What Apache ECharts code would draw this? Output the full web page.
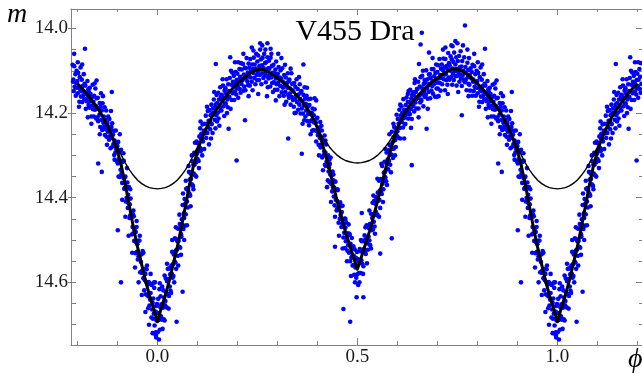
<!DOCTYPE html>
<html><head><meta charset="utf-8">
<script src="https://cdn.jsdelivr.net/npm/echarts@6/dist/echarts.min.js"></script>
<style>html,body{margin:0;padding:0;background:#fff}#c{width:642px;height:374px}</style>
</head><body><div id="c"></div>
<script>
// ---- axis ticks / labels ----
const xTickValues = [-0.2,-0.1,0,0.1,0.2,0.3,0.4,0.5,0.6,0.7,0.8,0.9,1.0,1.1,1.2];
const xLabelValues = [0, 0.5, 1.0];
const yTickValues = [14.0,14.05,14.1,14.15,14.2,14.25,14.3,14.35,14.4,14.45,14.5,14.55,14.6,14.65,14.7];
const yLabelValues = [14.0, 14.2, 14.4, 14.6];

// ---- observations [phase, magnitude], phase in [0,1) ----
const obsPrimaryEgress = [
[0.000,14.672],[0.001,14.718],[0.002,14.639],[0.003,14.689],[0.005,14.616],[0.006,14.712],[0.007,14.658],[0.008,14.633],[0.009,14.68],
[0.010,14.652],[0.011,14.688],[0.012,14.61],[0.014,14.66],[0.015,14.619],[0.016,14.687],[0.017,14.636],[0.018,14.584],[0.019,14.654],
[0.020,14.644],[0.021,14.591],[0.022,14.625],[0.023,14.659],[0.024,14.597],[0.026,14.568],[0.027,14.628],[0.028,14.593],[0.029,14.632],
[0.030,14.567],[0.031,14.61],[0.032,14.581],[0.033,14.62],[0.035,14.56],[0.036,14.58],[0.037,14.528],[0.038,14.589],[0.039,14.557],
[0.040,14.585],[0.041,14.534],[0.043,14.551],[0.044,14.496],[0.045,14.553],[0.046,14.525],[0.047,14.568],[0.048,14.499],[0.049,14.523],
[0.050,14.503],[0.051,14.537],[0.052,14.473],[0.053,14.502],[0.054,14.516],[0.056,14.462],[0.057,14.518],[0.058,14.471],[0.059,14.486],
[0.060,14.492],[0.061,14.451],[0.062,14.465],[0.063,14.417],[0.065,14.474],[0.066,14.437],[0.067,14.448],[0.068,14.403],[0.069,14.466],
[0.070,14.414],[0.071,14.439],[0.072,14.379],[0.074,14.409],[0.075,14.377],[0.076,14.423],[0.077,14.384],[0.078,14.396],[0.079,14.339],
[0.080,14.39],[0.081,14.357],[0.082,14.395],[0.083,14.343],[0.084,14.356],[0.086,14.368],[0.087,14.314],[0.088,14.345],[0.089,14.372],
[0.090,14.322],[0.091,14.343],[0.092,14.294],[0.093,14.322],[0.094,14.347],[0.095,14.296],[0.097,14.316],[0.098,14.267],[0.099,14.296],
[0.100,14.308],[0.101,14.271],[0.102,14.288],[0.103,14.313],[0.105,14.255],[0.106,14.282],[0.107,14.236],[0.108,14.29],[0.109,14.26],
[0.110,14.249],[0.111,14.286],[0.112,14.26],[0.113,14.227],[0.114,14.267],[0.116,14.242],[0.117,14.285],[0.118,14.225],[0.119,14.248],
[0.120,14.241],[0.121,14.206],[0.122,14.259],[0.124,14.226],[0.125,14.247],[0.126,14.195],[0.127,14.233],[0.128,14.218],[0.129,14.274],
[0.130,14.193],[0.131,14.219],[0.132,14.238],[0.133,14.205],[0.135,14.18],[0.136,14.226],[0.137,14.201],[0.138,14.247],[0.139,14.189],
[0.140,14.199],[0.141,14.168],[0.143,14.216],[0.144,14.186],[0.145,14.236],[0.146,14.179],[0.147,14.205],[0.148,14.157],[0.149,14.22],
[0.150,14.176],[0.151,14.199],[0.152,14.152],[0.153,14.213],[0.154,14.168],[0.156,14.187],[0.157,14.139],[0.158,14.194],[0.159,14.161],
[0.160,14.194],[0.161,14.157],[0.162,14.169],[0.164,14.135],[0.165,14.184],[0.166,14.164],[0.167,14.207],[0.168,14.147],[0.169,14.177],
[0.170,14.141],[0.171,14.178],[0.172,14.154],[0.173,14.12],[0.175,14.168],[0.176,14.186],[0.177,14.132],[0.178,14.161],[0.179,14.148],
[0.180,14.162],[0.181,14.117],[0.182,14.148],[0.183,14.19],[0.185,14.133],[0.186,14.169],[0.187,14.104],[0.188,14.153],[0.189,14.126],
[0.190,14.137],[0.191,14.112],[0.192,14.169],[0.193,14.128],[0.194,14.149],[0.196,14.103],[0.197,14.156],[0.198,14.122],[0.199,14.142],
[0.200,14.107],[0.201,14.136],[0.202,14.164],[0.203,14.121],[0.205,14.096],[0.206,14.143],[0.207,14.114],[0.208,14.152],[0.209,14.082],
[0.210,14.131],[0.211,14.097],[0.213,14.122],[0.214,14.084],[0.215,14.147],[0.216,14.109],[0.217,14.137],[0.218,14.117],[0.219,14.093],
[0.220,14.146],[0.221,14.094],[0.222,14.118],[0.223,14.07],[0.225,14.125],[0.226,14.104],[0.227,14.134],[0.228,14.083],[0.229,14.113],
[0.230,14.093],[0.231,14.135],[0.232,14.072],[0.233,14.116],[0.234,14.102],[0.236,14.126],[0.237,14.085],[0.238,14.146],[0.239,14.096],
[0.240,14.105],[0.241,14.069],[0.242,14.117],[0.243,14.085],[0.245,14.132],[0.246,14.095],[0.247,14.06],[0.248,14.11],[0.249,14.122]
];
const obsSecondaryIngress = [
[0.250,14.078],[0.251,14.102],[0.252,14.064],[0.254,14.122],[0.255,14.089],[0.256,14.11],[0.257,14.05],[0.258,14.097],[0.259,14.073],
[0.260,14.132],[0.261,14.087],[0.262,14.106],[0.263,14.069],[0.265,14.117],[0.266,14.094],[0.267,14.06],[0.268,14.11],[0.269,14.082],
[0.270,14.105],[0.271,14.127],[0.272,14.08],[0.273,14.112],[0.275,14.068],[0.276,14.139],[0.277,14.094],[0.278,14.118],[0.279,14.076],
[0.280,14.095],[0.281,14.11],[0.282,14.137],[0.283,14.069],[0.285,14.116],[0.286,14.089],[0.287,14.129],[0.288,14.105],[0.289,14.15],
[0.290,14.086],[0.291,14.127],[0.292,14.105],[0.294,14.145],[0.295,14.097],[0.296,14.118],[0.297,14.078],[0.298,14.132],[0.299,14.114],
[0.300,14.145],[0.301,14.107],[0.302,14.128],[0.303,14.091],[0.305,14.16],[0.306,14.116],[0.307,14.136],[0.308,14.099],[0.309,14.122],
[0.310,14.119],[0.311,14.151],[0.312,14.094],[0.314,14.14],[0.315,14.127],[0.316,14.159],[0.317,14.11],[0.318,14.134],[0.319,14.086],
[0.320,14.15],[0.321,14.116],[0.322,14.173],[0.324,14.129],[0.325,14.14],[0.326,14.106],[0.327,14.157],[0.328,14.125],[0.329,14.164],
[0.330,14.121],[0.331,14.154],[0.332,14.142],[0.333,14.18],[0.335,14.106],[0.336,14.162],[0.337,14.131],[0.338,14.146],[0.339,14.169],
[0.340,14.149],[0.341,14.185],[0.342,14.129],[0.344,14.166],[0.345,14.138],[0.346,14.199],[0.347,14.158],[0.348,14.12],[0.349,14.174],
[0.350,14.173],[0.351,14.143],[0.352,14.192],[0.353,14.156],[0.355,14.18],[0.356,14.132],[0.357,14.167],[0.358,14.201],[0.359,14.15],
[0.360,14.148],[0.361,14.189],[0.362,14.172],[0.364,14.201],[0.365,14.157],[0.366,14.182],[0.367,14.217],[0.368,14.139],[0.369,14.166],
[0.370,14.208],[0.371,14.178],[0.372,14.194],[0.373,14.159],[0.375,14.219],[0.376,14.185],[0.377,14.202],[0.378,14.167],[0.379,14.229],
[0.380,14.181],[0.381,14.22],[0.382,14.202],[0.383,14.166],[0.385,14.217],[0.386,14.199],[0.387,14.242],[0.388,14.189],[0.389,14.219],
[0.390,14.24],[0.391,14.205],[0.392,14.222],[0.393,14.191],[0.395,14.241],[0.396,14.223],[0.397,14.267],[0.398,14.213],[0.399,14.242],
[0.400,14.211],[0.401,14.252],[0.402,14.235],[0.403,14.275],[0.405,14.235],[0.406,14.258],[0.407,14.221],[0.408,14.281],[0.409,14.26],
[0.410,14.276],[0.411,14.241],[0.412,14.305],[0.413,14.267],[0.415,14.3],[0.416,14.269],[0.417,14.291],[0.418,14.253],[0.419,14.322],
[0.420,14.293],[0.421,14.325],[0.422,14.274],[0.423,14.315],[0.425,14.302],[0.426,14.359],[0.427,14.3],[0.428,14.338],[0.429,14.328],
[0.430,14.363],[0.431,14.32],[0.432,14.345],[0.433,14.305],[0.435,14.368],[0.436,14.347],[0.437,14.385],[0.438,14.338],[0.439,14.376],
[0.440,14.359],[0.441,14.397],[0.442,14.376],[0.443,14.418],[0.445,14.362],[0.446,14.405],[0.447,14.381],[0.448,14.43],[0.449,14.407],
[0.450,14.425],[0.451,14.382],[0.452,14.423],[0.453,14.459],[0.455,14.416],[0.456,14.45],[0.457,14.411],[0.458,14.441],[0.459,14.434],
[0.460,14.469],[0.461,14.434],[0.462,14.461],[0.463,14.419],[0.465,14.494],[0.466,14.463],[0.467,14.483],[0.468,14.449],[0.469,14.519],
[0.470,14.471],[0.471,14.503],[0.472,14.458],[0.473,14.494],[0.475,14.525],[0.476,14.484],[0.477,14.512],[0.478,14.463],[0.479,14.53],
[0.480,14.513],[0.481,14.488],[0.482,14.55],[0.483,14.509],[0.485,14.542],[0.486,14.495],[0.487,14.538],[0.488,14.56],[0.489,14.52],
[0.490,14.559],[0.491,14.537],[0.492,14.582],[0.493,14.522],[0.495,14.565],[0.496,14.542],[0.497,14.589],[0.498,14.561],[0.499,14.528]
];
const obsSecondaryEgress = [
[0.500,14.581],[0.501,14.545],[0.502,14.606],[0.503,14.551],[0.504,14.578],[0.506,14.521],[0.507,14.552],[0.508,14.578],[0.509,14.527],
[0.510,14.548],[0.511,14.503],[0.512,14.556],[0.514,14.523],[0.515,14.562],[0.516,14.503],[0.517,14.521],[0.518,14.489],[0.519,14.528],
[0.520,14.498],[0.521,14.533],[0.522,14.503],[0.523,14.465],[0.525,14.508],[0.526,14.523],[0.527,14.467],[0.528,14.492],[0.529,14.472],
[0.530,14.501],[0.531,14.462],[0.532,14.512],[0.534,14.438],[0.535,14.466],[0.536,14.477],[0.537,14.448],[0.538,14.412],[0.539,14.475],
[0.540,14.442],[0.541,14.457],[0.542,14.407],[0.543,14.468],[0.545,14.414],[0.546,14.433],[0.547,14.399],[0.548,14.441],[0.549,14.407],
[0.550,14.44],[0.551,14.388],[0.552,14.407],[0.554,14.36],[0.555,14.405],[0.556,14.383],[0.557,14.424],[0.558,14.356],[0.559,14.386],
[0.560,14.358],[0.561,14.391],[0.562,14.325],[0.563,14.367],[0.565,14.38],[0.566,14.341],[0.567,14.36],[0.568,14.315],[0.569,14.339],
[0.570,14.352],[0.571,14.317],[0.572,14.361],[0.573,14.293],[0.575,14.321],[0.576,14.309],[0.577,14.333],[0.578,14.288],[0.579,14.313],
[0.580,14.275],[0.581,14.299],[0.582,14.322],[0.583,14.277],[0.585,14.298],[0.586,14.244],[0.587,14.284],[0.588,14.269],[0.589,14.306],
[0.590,14.258],[0.591,14.284],[0.592,14.233],[0.594,14.264],[0.595,14.236],[0.596,14.28],[0.597,14.245],[0.598,14.204],[0.599,14.254],
[0.600,14.243],[0.601,14.214],[0.602,14.258],[0.603,14.225],[0.605,14.192],[0.606,14.235],[0.607,14.26],[0.608,14.206],[0.609,14.219],
[0.610,14.184],[0.611,14.221],[0.612,14.2],[0.614,14.234],[0.615,14.167],[0.616,14.212],[0.617,14.192],[0.618,14.226],[0.619,14.206],
[0.620,14.226],[0.621,14.181],[0.622,14.202],[0.623,14.163],[0.625,14.194],[0.626,14.174],[0.627,14.213],[0.628,14.148],[0.629,14.199],
[0.630,14.174],[0.631,14.203],[0.632,14.145],[0.634,14.19],[0.635,14.165],[0.636,14.214],[0.637,14.157],[0.638,14.181],[0.639,14.151],
[0.640,14.183],[0.641,14.158],[0.642,14.196],[0.643,14.129],[0.645,14.175],[0.646,14.15],[0.647,14.167],[0.648,14.189],[0.649,14.143],
[0.650,14.143],[0.651,14.164],[0.652,14.126],[0.653,14.189],[0.655,14.158],[0.656,14.137],[0.657,14.175],[0.658,14.115],[0.659,14.168],
[0.660,14.171],[0.661,14.14],[0.662,14.112],[0.663,14.156],[0.665,14.184],[0.666,14.131],[0.667,14.149],[0.668,14.122],[0.669,14.162],
[0.670,14.127],[0.671,14.157],[0.672,14.099],[0.674,14.142],[0.675,14.12],[0.676,14.166],[0.677,14.135],[0.678,14.15],[0.679,14.109],
[0.680,14.131],[0.681,14.108],[0.682,14.165],[0.683,14.117],[0.685,14.147],[0.686,14.096],[0.687,14.136],[0.688,14.124],[0.689,14.154],
[0.690,14.096],[0.691,14.132],[0.692,14.113],[0.694,14.161],[0.695,14.105],[0.696,14.121],[0.697,14.085],[0.698,14.142],[0.699,14.128],
[0.700,14.103],[0.701,14.142],[0.702,14.087],[0.703,14.118],[0.705,14.072],[0.706,14.129],[0.707,14.11],[0.708,14.147],[0.709,14.095],
[0.710,14.117],[0.711,14.085],[0.712,14.132],[0.714,14.099],[0.715,14.071],[0.716,14.12],[0.717,14.109],[0.718,14.092],[0.719,14.146],
[0.720,14.072],[0.721,14.108],[0.722,14.122],[0.723,14.089],[0.725,14.133],[0.726,14.097],[0.727,14.058],[0.728,14.116],[0.729,14.082],
[0.730,14.121],[0.731,14.088],[0.732,14.1],[0.733,14.066],[0.735,14.114],[0.736,14.073],[0.737,14.133],[0.738,14.095],[0.739,14.107],
[0.740,14.079],[0.741,14.122],[0.742,14.057],[0.743,14.101],[0.745,14.085],[0.746,14.113],[0.747,14.068],[0.748,14.135],[0.749,14.096]
];
const obsPrimaryIngress = [
[0.750,14.112],[0.751,14.077],[0.752,14.103],[0.754,14.065],[0.755,14.126],[0.756,14.092],[0.757,14.109],[0.758,14.054],[0.759,14.118],
[0.760,14.09],[0.761,14.136],[0.762,14.077],[0.763,14.112],[0.765,14.1],[0.766,14.122],[0.767,14.068],[0.768,14.105],[0.769,14.127],
[0.770,14.091],[0.771,14.121],[0.772,14.105],[0.773,14.146],[0.775,14.081],[0.776,14.115],[0.777,14.098],[0.778,14.131],[0.779,14.07],
[0.780,14.133],[0.781,14.11],[0.782,14.147],[0.783,14.094],[0.785,14.118],[0.786,14.103],[0.787,14.159],[0.788,14.086],[0.789,14.126],
[0.790,14.121],[0.791,14.148],[0.792,14.089],[0.793,14.138],[0.795,14.108],[0.796,14.159],[0.797,14.129],[0.798,14.1],[0.799,14.14],
[0.800,14.124],[0.801,14.153],[0.802,14.105],[0.803,14.14],[0.805,14.173],[0.806,14.115],[0.807,14.145],[0.808,14.092],[0.809,14.161],
[0.810,14.148],[0.811,14.121],[0.812,14.174],[0.813,14.136],[0.815,14.158],[0.816,14.108],[0.817,14.166],[0.818,14.131],[0.819,14.152],
[0.820,14.135],[0.821,14.19],[0.822,14.154],[0.823,14.172],[0.825,14.124],[0.826,14.164],[0.827,14.144],[0.828,14.181],[0.829,14.15],
[0.830,14.187],[0.831,14.14],[0.832,14.172],[0.833,14.155],[0.835,14.208],[0.836,14.163],[0.837,14.182],[0.838,14.133],[0.839,14.191],
[0.840,14.173],[0.841,14.208],[0.842,14.159],[0.844,14.192],[0.845,14.142],[0.846,14.183],[0.847,14.213],[0.848,14.165],[0.849,14.187],
[0.850,14.21],[0.851,14.164],[0.852,14.219],[0.853,14.189],[0.855,14.204],[0.856,14.176],[0.857,14.233],[0.858,14.185],[0.859,14.153],
[0.860,14.216],[0.861,14.194],[0.862,14.24],[0.863,14.177],[0.865,14.223],[0.866,14.208],[0.867,14.232],[0.868,14.186],[0.869,14.252],
[0.870,14.216],[0.871,14.238],[0.872,14.194],[0.873,14.256],[0.875,14.223],[0.876,14.244],[0.877,14.208],[0.878,14.232],[0.879,14.263],
[0.880,14.214],[0.881,14.255],[0.882,14.24],[0.883,14.283],[0.885,14.233],[0.886,14.259],[0.887,14.224],[0.888,14.279],[0.889,14.251],
[0.890,14.273],[0.891,14.242],[0.892,14.299],[0.893,14.265],[0.895,14.293],[0.896,14.241],[0.897,14.285],[0.898,14.269],[0.899,14.314],
[0.900,14.278],[0.901,14.319],[0.902,14.268],[0.903,14.309],[0.905,14.291],[0.906,14.351],[0.907,14.312],[0.908,14.334],[0.909,14.287],
[0.910,14.344],[0.911,14.316],[0.912,14.365],[0.913,14.315],[0.915,14.353],[0.916,14.313],[0.917,14.379],[0.918,14.353],[0.919,14.376],
[0.920,14.35],[0.921,14.409],[0.922,14.374],[0.923,14.4],[0.925,14.364],[0.926,14.424],[0.927,14.393],[0.928,14.413],[0.929,14.375],
[0.930,14.448],[0.931,14.416],[0.932,14.442],[0.933,14.402],[0.935,14.447],[0.936,14.487],[0.937,14.437],[0.938,14.469],[0.939,14.44],
[0.940,14.484],[0.941,14.444],[0.942,14.502],[0.943,14.476],[0.945,14.531],[0.946,14.481],[0.947,14.505],[0.948,14.469],[0.949,14.528],
[0.950,14.51],[0.951,14.546],[0.952,14.502],[0.953,14.538],[0.955,14.501],[0.956,14.545],[0.957,14.576],[0.958,14.535],[0.959,14.552],
[0.960,14.577],[0.961,14.533],[0.962,14.572],[0.963,14.526],[0.965,14.59],[0.966,14.571],[0.967,14.619],[0.968,14.568],[0.969,14.595],
[0.970,14.58],[0.971,14.628],[0.972,14.599],[0.973,14.569],[0.975,14.631],[0.976,14.605],[0.977,14.661],[0.978,14.599],[0.979,14.634],
[0.980,14.655],[0.981,14.602],[0.982,14.641],[0.983,14.625],[0.985,14.683],[0.986,14.606],[0.987,14.664],[0.988,14.648],[0.989,14.686],
[0.990,14.638],[0.991,14.674],[0.992,14.613],[0.993,14.702],[0.995,14.669],[0.996,14.725],[0.997,14.656],[0.998,14.69],[0.999,14.651]
];
// wider-spread observations on eclipse branches and around the maxima
const obsWide = [
[0.006,14.602],[0.013,14.71],[0.018,14.69],[0.024,14.556],[0.028,14.662],[0.034,14.625],[0.037,14.5],[0.042,14.6],[0.046,14.47],[0.052,14.56],
[0.055,14.44],[0.059,14.535],[0.064,14.39],[0.067,14.5],[0.071,14.36],[0.074,14.465],[0.078,14.325],[0.083,14.42],[0.086,14.3],[0.09,14.38],
[0.094,14.27],[0.097,14.35],[0.104,14.33],[0.108,14.22],
[0.903,14.35],[0.906,14.25],[0.912,14.405],[0.915,14.295],[0.92,14.445],[0.924,14.33],[0.928,14.49],[0.932,14.38],[0.937,14.53],[0.94,14.43],
[0.944,14.565],[0.948,14.455],[0.953,14.6],[0.956,14.49],[0.961,14.63],[0.965,14.53],[0.97,14.67],[0.974,14.56],[0.979,14.7],[0.983,14.58],
[0.988,14.72],[0.992,14.6],[0.997,14.73],
[0.404,14.3],[0.41,14.23],[0.414,14.335],[0.42,14.265],[0.424,14.375],[0.43,14.31],[0.434,14.41],[0.44,14.345],[0.444,14.445],[0.45,14.38],
[0.454,14.49],[0.46,14.42],[0.463,14.52],[0.47,14.45],[0.474,14.55],[0.48,14.485],[0.484,14.585],[0.49,14.515],[0.494,14.6],
[0.505,14.6],[0.509,14.5],[0.514,14.58],[0.52,14.47],[0.524,14.555],[0.53,14.43],[0.534,14.52],[0.54,14.395],[0.544,14.485],[0.55,14.355],
[0.554,14.445],[0.56,14.32],[0.564,14.41],[0.57,14.285],[0.574,14.37],[0.58,14.25],[0.584,14.34],[0.59,14.225],[0.594,14.3],
[0.215,14.06],[0.228,14.16],[0.236,14.045],[0.252,14.155],[0.262,14.04],[0.274,14.16],[0.283,14.048],[0.296,14.17],[0.302,14.06],[0.318,14.18],
[0.688,14.07],[0.703,14.16],[0.714,14.05],[0.726,14.155],[0.738,14.042],[0.752,14.15],[0.764,14.04],[0.778,14.16],[0.792,14.06],[0.804,14.185],
[0.812,14.085],[0.826,14.21],
[0.112,14.3],[0.124,14.185],[0.134,14.26],[0.142,14.15],[0.155,14.23],[0.163,14.12],[0.174,14.2],[0.184,14.1],
[0.333,14.095],[0.343,14.2],[0.354,14.115],[0.363,14.225],[0.374,14.14],[0.383,14.25],[0.393,14.165],
[0.607,14.18],[0.617,14.26],[0.626,14.155],[0.634,14.235],[0.644,14.12],[0.653,14.21],[0.664,14.1],[0.676,14.19],
[0.835,14.225],[0.843,14.13],[0.856,14.25],[0.864,14.16],[0.874,14.275],[0.884,14.195],[0.893,14.31]
];
const obsOutliers = [
[0.004,14.735],[0.048,14.693],[0.063,14.622],[0.146,14.084],[0.178,14.237],[0.182,14.068],[0.194,14.08],[0.198,14.312],
[0.202,14.08],[0.219,14.217],[0.24,14.052],[0.257,14.035],[0.275,14.035],[0.27,14.05],[0.285,14.06],[0.31,14.07],
[0.327,14.26],[0.361,14.296],[0.365,14.085],[0.397,14.17],[0.444,14.516],[0.465,14.663],[0.482,14.693],[0.498,14.635],
[0.515,14.635],[0.511,14.436],[0.557,14.532],[0.586,14.496],[0.636,14.323],[0.654,14.084],[0.658,14.038],[0.661,14.01],
[0.673,14.237],[0.679,14.057],[0.698,14.162],[0.72,14.045],[0.735,14.04],[0.745,14.03],[0.75,14.035],[0.761,14.205],
[0.769,13.993],[0.775,14.05],[0.801,14.08],[0.819,14.048],[0.848,14.123],[0.852,14.319],[0.861,14.339],[0.886,14.15],
[0.901,14.477],[0.909,14.6],[0.994,14.6],[0.996,14.718]
];

// ---- model light curve (thick) ----
const modelPhase = [-0.2,-0.19,-0.18,-0.17,-0.16,-0.15,-0.14,-0.13,-0.12,-0.11,-0.1,-0.09,-0.08,-0.07,-0.06,-0.05,-0.04,-0.03,-0.02,-0.01,
0,0.01,0.02,0.03,0.04,0.05,0.06,0.07,0.08,0.09,0.1,0.11,0.12,0.13,0.14,0.15,0.16,0.17,0.18,0.19,0.2,0.21,0.22,0.23,0.24,0.25,
0.26,0.27,0.28,0.29,0.3,0.31,0.32,0.33,0.34,0.35,0.36,0.37,0.38,0.39,0.4,0.41,0.42,0.43,0.44,0.45,0.46,0.47,0.48,0.49,0.5,
0.51,0.52,0.53,0.54,0.55,0.56,0.57,0.58,0.59,0.6,0.61,0.62,0.63,0.64,0.65,0.66,0.67,0.68,0.69,0.7,0.71,0.72,0.73,0.74,0.75,
0.76,0.77,0.78,0.79,0.8,0.81,0.82,0.83,0.84,0.85,0.86,0.87,0.88,0.89,0.9,0.91,0.92,0.93,0.94,0.95,0.96,0.97,0.98,0.99,1.0,
1.01,1.02,1.03,1.04,1.05,1.06,1.07,1.08,1.09,1.1,1.11,1.12,1.13,1.14,1.15,1.16,1.17,1.18,1.19,1.2];
const modelMag = [14.13,14.14,14.15,14.162,14.175,14.188,14.203,14.22,14.24,14.262,14.29,14.325,14.37,14.42,14.47,14.515,14.555,14.595,14.63,14.66,
14.693,14.66,14.63,14.595,14.555,14.515,14.47,14.42,14.37,14.325,14.29,14.262,14.24,14.22,14.203,14.188,14.175,14.162,14.15,14.14,14.13,14.122,14.114,14.107,14.101,14.097,
14.096,14.099,14.104,14.11,14.117,14.124,14.132,14.14,14.15,14.16,14.17,14.183,14.197,14.214,14.235,14.265,14.298,14.333,14.372,14.41,14.445,14.48,14.51,14.54,14.569,
14.54,14.51,14.48,14.445,14.41,14.372,14.333,14.298,14.265,14.235,14.214,14.197,14.183,14.17,14.16,14.15,14.14,14.132,14.124,14.117,14.11,14.104,14.099,14.095,14.096,
14.1,14.106,14.113,14.121,14.13,14.14,14.15,14.162,14.175,14.188,14.203,14.22,14.24,14.262,14.29,14.325,14.37,14.42,14.47,14.515,14.555,14.595,14.63,14.66,14.693,
14.66,14.63,14.595,14.555,14.515,14.47,14.42,14.37,14.325,14.29,14.262,14.24,14.22,14.203,14.188,14.175,14.162,14.15,14.14,14.13];

// ---- model without eclipses (thin), three segments ----
const thinPhaseA = [-0.12,-0.11,-0.1,-0.09,-0.08,-0.07,-0.06,-0.05,-0.04,-0.03,-0.02,-0.01,0,0.01,0.02,0.03,0.04,0.05,0.06,0.07,0.08,0.09,0.1,0.11,0.12];
const thinMagA = [14.24,14.262,14.28,14.3,14.318,14.334,14.347,14.358,14.366,14.372,14.376,14.378,14.379,14.378,14.376,14.372,14.366,14.358,14.347,14.334,14.318,14.3,14.28,14.262,14.24];
const thinPhaseB = [0.39,0.4,0.41,0.42,0.43,0.44,0.45,0.46,0.47,0.48,0.49,0.5,0.51,0.52,0.53,0.54,0.55,0.56,0.57,0.58,0.59,0.6,0.61];
const thinMagB = [14.214,14.235,14.252,14.267,14.28,14.291,14.3,14.307,14.312,14.315,14.317,14.318,14.317,14.315,14.312,14.307,14.3,14.291,14.28,14.267,14.252,14.235,14.214];
const thinPhaseC = [0.88,0.89,0.9,0.91,0.92,0.93,0.94,0.95,0.96,0.97,0.98,0.99,1.0,1.01,1.02,1.03,1.04,1.05,1.06,1.07,1.08,1.09,1.1,1.11,1.12];
const thinMagC = [14.24,14.262,14.28,14.3,14.318,14.334,14.347,14.358,14.366,14.372,14.376,14.378,14.379,14.378,14.376,14.372,14.366,14.358,14.347,14.334,14.318,14.3,14.28,14.262,14.24];

// ---- build ----
const XMIN = -0.216, XMAX = 1.2115, YMIN = 13.954, YMAX = 14.748;
const FOLD_MIN = -0.212, FOLD_MAX = 1.21;
const FONT = '"Liberation Serif", "Times New Roman", serif';
const AX = '#808080';
const allObs = [].concat(obsPrimaryEgress, obsSecondaryIngress, obsSecondaryEgress, obsPrimaryIngress, obsWide, obsOutliers);
const scatterData = [];
allObs.forEach(([p, m]) => {
  scatterData.push([p, m]);
  if (p - 1 >= FOLD_MIN) scatterData.push([p - 1, m]);   // same observation shown one cycle earlier
  if (p + 1 <= FOLD_MAX) scatterData.push([p + 1, m]);   // same observation shown one cycle later
});
const zip = (a, b) => a.map((v, i) => [v, b[i]]);

function xAx(position, ticks, len, line, labels) {
  return {
    type: 'value', gridIndex: 0, position, min: XMIN, max: XMAX,
    axisLine: { show: line, onZero: false, lineStyle: { color: AX, width: 1 } },
    axisTick: { show: true, inside: true, length: len, customValues: ticks, lineStyle: { color: AX, width: 1 } },
    axisLabel: labels ? { show: true, customValues: labels, formatter: v => v.toFixed(1),
      fontFamily: FONT, fontSize: 19, color: '#1a1a1a', margin: 3 } : { show: false },
    splitLine: { show: false }
  };
}
function yAx(position, ticks, len, inside, line, labels) {
  return {
    type: 'value', gridIndex: 0, position, min: YMIN, max: YMAX, inverse: true,
    axisLine: { show: line, onZero: false, lineStyle: { color: AX, width: 1 } },
    axisTick: { show: true, inside, length: len, customValues: ticks, lineStyle: { color: AX, width: 1 } },
    axisLabel: labels ? { show: true, customValues: labels, formatter: v => v.toFixed(1),
      fontFamily: FONT, fontSize: 19, color: '#1a1a1a', margin: 3 } : { show: false },
    splitLine: { show: false }
  };
}

const chart = echarts.init(document.getElementById('c'), null, { renderer: 'canvas' });
chart.setOption({
  animation: false,
  backgroundColor: '#fff',
  grid: { left: 71, right: 0, top: 9, bottom: 29, containLabel: false },
  xAxis: [
    xAx('bottom', xTickValues, 4, true, xLabelValues),
    xAx('bottom', xLabelValues, 7, false, null),
    xAx('top', xTickValues, 3, true, null),
    xAx('top', xLabelValues, 6, false, null)
  ],
  yAxis: [
    yAx('left', yLabelValues, 3, false, true, yLabelValues),
    yAx('left', yTickValues, 5, true, false, null),
    yAx('right', yTickValues, 3, true, false, null),
    yAx('right', yLabelValues, 6, true, false, null)
  ],
  graphic: [
    { type: 'text', x: 355, y: 32, style: { text: 'V455 Dra', font: '30px "Liberation Serif", serif', fill: '#000', textAlign: 'center', textVerticalAlign: 'middle' } },
    { type: 'text', x: 7, y: 15, style: { text: 'm', font: 'italic 28px "Liberation Serif", serif', fill: '#000', textAlign: 'left', textVerticalAlign: 'middle' } },
    { type: 'text', x: 628, y: 360, style: { text: 'ϕ', font: 'italic 28px "Liberation Serif", serif', fill: '#000', textAlign: 'left', textVerticalAlign: 'middle' } }
  ],
  series: [
    { type: 'scatter', xAxisIndex: 0, yAxisIndex: 0, data: scatterData, symbolSize: 4.6, large: false,
      itemStyle: { color: '#0000ff', opacity: 1 }, silent: true, z: 2 },
    { type: 'line', xAxisIndex: 0, yAxisIndex: 0, data: zip(thinPhaseA, thinMagA), showSymbol: false, symbol: 'none',
      lineStyle: { color: '#000', width: 1.4 }, silent: true, z: 3 },
    { type: 'line', xAxisIndex: 0, yAxisIndex: 0, data: zip(thinPhaseB, thinMagB), showSymbol: false, symbol: 'none',
      lineStyle: { color: '#000', width: 1.4 }, silent: true, z: 3 },
    { type: 'line', xAxisIndex: 0, yAxisIndex: 0, data: zip(thinPhaseC, thinMagC), showSymbol: false, symbol: 'none',
      lineStyle: { color: '#000', width: 1.4 }, silent: true, z: 3 },
    { type: 'line', xAxisIndex: 0, yAxisIndex: 0, data: zip(modelPhase, modelMag), showSymbol: false, symbol: 'none',
      lineStyle: { color: '#000', width: 3, join: 'round' }, silent: true, z: 4 }
  ]
});
</script></body></html>
